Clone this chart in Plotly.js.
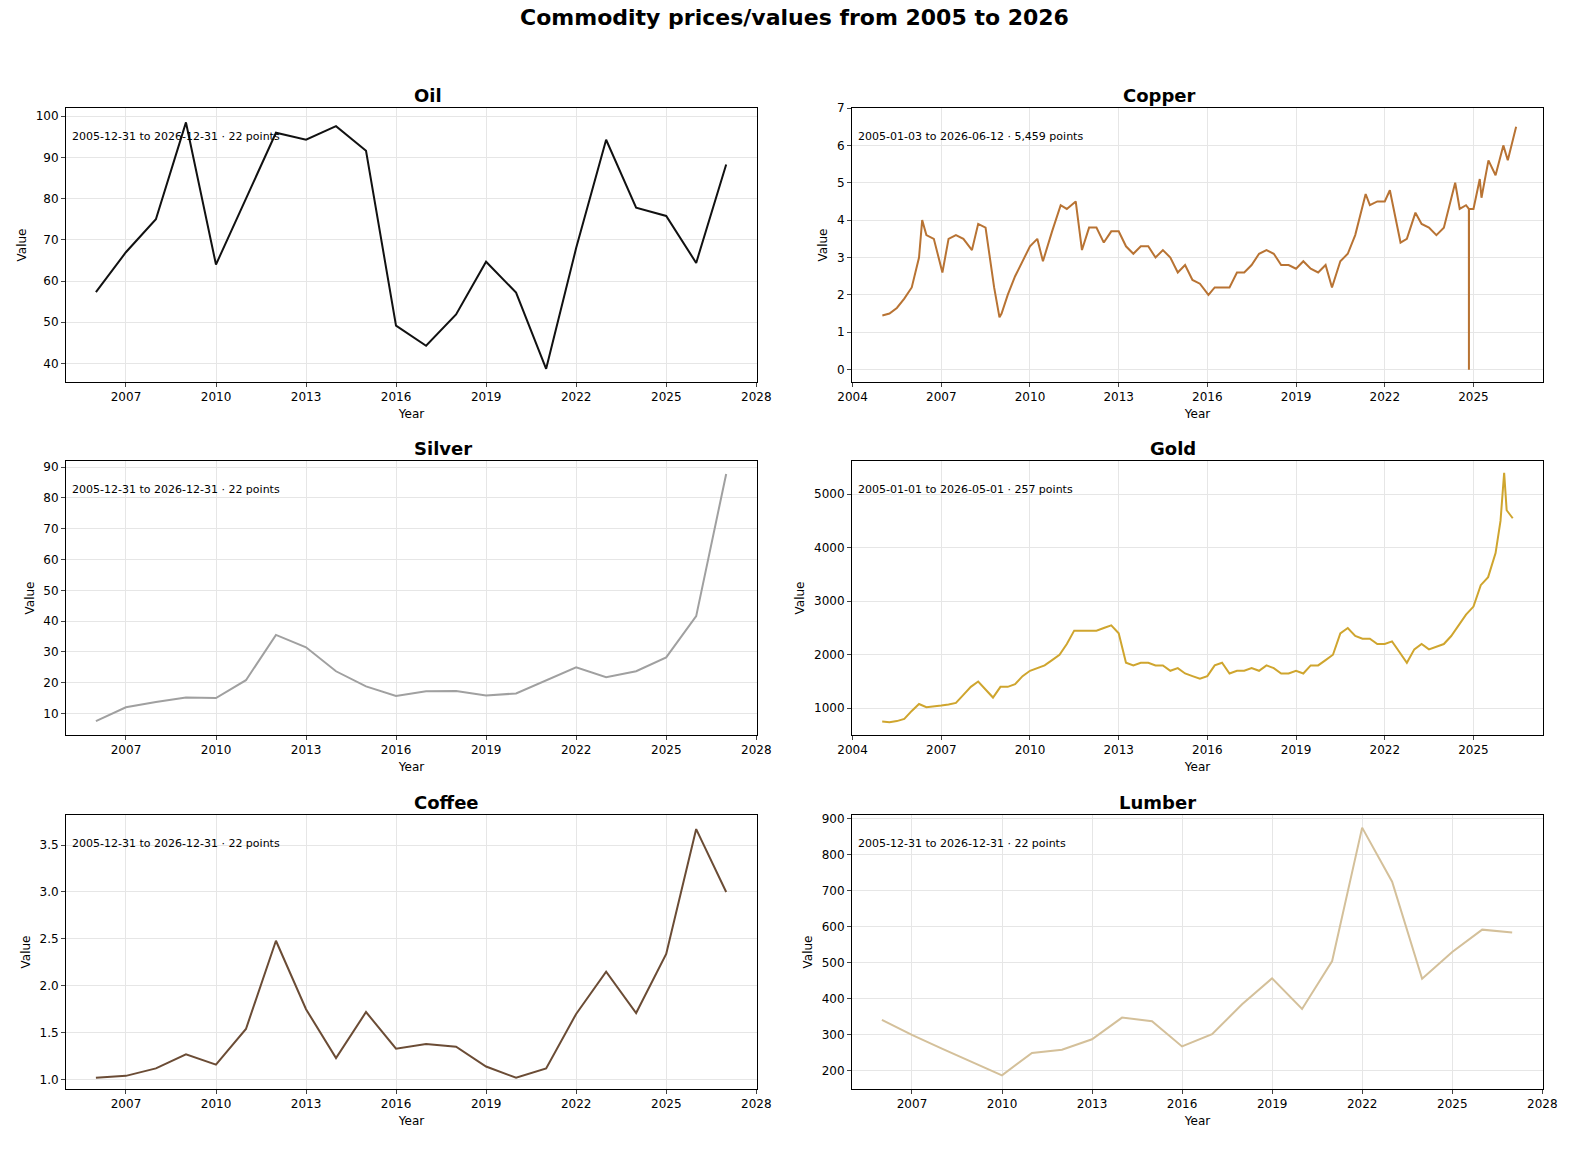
<!DOCTYPE html>
<html><head><meta charset="utf-8">
<script src="https://cdn.plot.ly/plotly-3.0.1.min.js"></script>
<style>body{margin:0;background:#fff}#chart{width:1589px;height:1156px}</style>
</head><body><div id="chart"></div>
<script>
// annual series: year-end dates
const yearEnds = [];
for (let y = 2005; y <= 2026; y++) yearEnds.push(y + "-12-31");

const oil = [57.3, 67, 75, 98.5, 64, 80, 96, 94.3, 97.6, 91.6, 49.2, 44.3, 51.9, 64.7, 57.2, 38.7, 68, 94.3, 77.8, 75.8, 64.4, 88.3];
const silver = [7.5, 12, 13.7, 15.2, 15, 20.8, 35.5, 31.5, 23.7, 18.8, 15.7, 17.2, 17.3, 15.8, 16.5, 20.8, 25, 21.8, 23.7, 28.2, 41.6, 87.8];
const coffee = [1.02, 1.04, 1.12, 1.27, 1.16, 1.54, 2.48, 1.75, 1.23, 1.72, 1.33, 1.38, 1.35, 1.14, 1.02, 1.12, 1.70, 2.15, 1.71, 2.34, 3.67, 3.00];
const lumber = [342, 300, 262, 225, 188, 250, 259, 288, 348, 338, 268, 302, 385, 457, 372, 505, 875, 725, 456, 530, 592, 584];

const copperDates = ["2005-01-03","2005-04-01","2005-07-01","2005-10-01","2006-01-01","2006-04-01","2006-05-10","2006-07-01","2006-10-01",
 "2007-01-15","2007-04-01","2007-07-01","2007-10-01","2008-01-15","2008-04-01","2008-07-01","2008-10-15","2008-12-20",
 "2009-01-15","2009-04-01","2009-07-01","2009-10-01","2010-01-01","2010-04-01","2010-06-10","2010-10-01",
 "2011-01-15","2011-04-01","2011-07-20","2011-10-05","2012-01-01","2012-04-01","2012-07-01","2012-10-01",
 "2013-01-01","2013-04-01","2013-07-01","2013-10-01","2014-01-01","2014-04-01","2014-07-01","2014-10-01",
 "2015-01-01","2015-04-01","2015-07-01","2015-10-01","2016-01-15","2016-04-01","2016-07-01","2016-10-01",
 "2017-01-01","2017-04-01","2017-07-01","2017-10-01","2018-01-01","2018-04-01","2018-07-01","2018-10-01",
 "2019-01-01","2019-04-01","2019-07-01","2019-10-01","2020-01-01","2020-03-20","2020-07-01","2020-10-01",
 "2021-01-01","2021-05-10","2021-07-01","2021-10-01","2022-01-01","2022-03-05","2022-07-15","2022-10-01",
 "2023-01-15","2023-04-01","2023-07-01","2023-10-01","2024-01-01","2024-05-20","2024-07-15","2024-10-01",
 "2024-11-05","2024-11-06","2024-11-07","2025-01-01","2025-03-20","2025-04-10","2025-07-05","2025-10-01",
 "2026-01-05","2026-03-01","2026-06-12"];
const copper = [1.45,1.5,1.65,1.9,2.2,3.0,4.0,3.6,3.5,2.6,3.5,3.6,3.5,3.2,3.9,3.8,2.2,1.4,
 1.5,2.0,2.5,2.9,3.3,3.5,2.9,3.7,4.4,4.3,4.5,3.2,3.8,3.8,3.4,3.7,
 3.7,3.3,3.1,3.3,3.3,3.0,3.2,3.0,2.6,2.8,2.4,2.3,2.0,2.2,2.2,2.2,
 2.6,2.6,2.8,3.1,3.2,3.1,2.8,2.8,2.7,2.9,2.7,2.6,2.8,2.2,2.9,3.1,
 3.6,4.7,4.4,4.5,4.5,4.8,3.4,3.5,4.2,3.9,3.8,3.6,3.8,5.0,4.3,4.4,
 4.3,0,4.3,4.3,5.1,4.6,5.6,5.2,6.0,5.6,6.5];

const goldDates = [];
for (let y = 2005; y <= 2025; y++) ["01","04","07","10"].forEach(m => goldDates.push(y + "-" + m + "-01"));
goldDates.push("2025-12-01","2026-01-15","2026-02-15","2026-05-01");
const gold = [750,740,760,800, 950,1080,1020,1030, 1050,1070,1100,1250, 1400,1500,1350,1200,
 1400,1400,1450,1600, 1700,1750,1800,1900, 2000,2200,2450,2450, 2450,2450,2500,2550,
 2400,1850,1800,1850, 1850,1800,1800,1700, 1750,1650,1600,1550, 1600,1800,1850,1650,
 1700,1700,1750,1700, 1800,1750,1650,1650, 1700,1650,1800,1800, 1900,2000,2400,2500,
 2350,2300,2300,2200, 2200,2250,2050,1850, 2100,2200,2100,2150, 2200,2350,2550,2750,
 2900,3300,3450,3900, 4500,5400,4700,4550];

const annualRange = ["2005-01-01","2028-01-10"];
const dailyRange = ["2003-12-25","2027-05-10"];
const panels = [
 {name:"Oil", x:yearEnds, y:oil, color:"#111111", note:"2005-12-31 to 2026-12-31 · 22 points", yr:[35.5,102], dt:10, fmt:"", xr:annualRange, col:0, row:0},
 {name:"Copper", x:copperDates, y:copper, color:"#b87333", note:"2005-01-03 to 2026-06-12 · 5,459 points", yr:[-0.33,7.0], dt:1, fmt:"", xr:dailyRange, col:1, row:0},
 {name:"Silver", x:yearEnds, y:silver, color:"#a0a0a0", note:"2005-12-31 to 2026-12-31 · 22 points", yr:[3,92], dt:10, fmt:"", xr:annualRange, col:0, row:1},
 {name:"Gold", x:goldDates, y:gold, color:"#cfa52e", note:"2005-01-01 to 2026-05-01 · 257 points", yr:[500,5620], dt:1000, fmt:"", xr:dailyRange, col:1, row:1},
 {name:"Coffee", x:yearEnds, y:coffee, color:"#6b4c35", note:"2005-12-31 to 2026-12-31 · 22 points", yr:[0.9,3.82], dt:0.5, fmt:".1f", xr:annualRange, col:0, row:2},
 {name:"Lumber", x:yearEnds, y:lumber, color:"#d4c09a", note:"2005-12-31 to 2026-12-31 · 22 points", yr:[150,910], dt:100, fmt:"", xr:annualRange, col:1, row:2}
];

const W = 1589, H = 1156;
const xDom = [[66/W, 757/W], [852/W, 1543/W]];
const yPx = [[108, 382], [461, 735], [815, 1089]];

const traces = [], annotations = [];
const layout = {
  width: W, height: H, margin:{l:0,r:0,t:0,b:0}, showlegend:false,
  paper_bgcolor:"#fff", plot_bgcolor:"#fff",
  font:{family:"DejaVu Sans", size:12, color:"#000"},
  title:{text:"<b>Commodity prices/values from 2005 to 2026</b>", x:0.5, y:0.992, xanchor:"center", yanchor:"top", font:{size:22}}
};
panels.forEach((p, i) => {
  const n = i + 1;
  const ax = n === 1 ? "" : n;
  traces.push({x:p.x, y:p.y, type:"scatter", mode:"lines", line:{color:p.color, width:2}, xaxis:"x"+ax, yaxis:"y"+ax});
  const yd = [1 - yPx[p.row][1]/H, 1 - yPx[p.row][0]/H];
  layout["xaxis"+ax] = {domain:xDom[p.col], anchor:"y"+ax, type:"date", range:p.xr,
    tick0:"2004-01-01", dtick:"M36", tickformat:"%Y", ticks:"outside", ticklen:4,
    showline:true, mirror:true, linecolor:"#000", gridcolor:"#e6e6e6", zeroline:false,
    title:{text:"Year", standoff:6, font:{size:12}}};
  layout["yaxis"+ax] = {domain:yd, anchor:"x"+ax, range:p.yr, dtick:p.dt, tickformat:p.fmt, ticks:"outside", ticklen:4,
    showline:true, mirror:true, linecolor:"#000", gridcolor:"#e6e6e6", zeroline:false,
    title:{text:"Value", standoff:6, font:{size:12}}};
  annotations.push({text:"<b>"+p.name+"</b>", xref:"paper", yref:"paper", x:(xDom[p.col][0]+xDom[p.col][1])/2, y:yd[1],
    yanchor:"bottom", showarrow:false, yshift:0, font:{size:18}});
  annotations.push({text:p.note, xref:"x"+ax+" domain", yref:"y"+ax+" domain", x:0.006, y:0.895, xanchor:"left", yanchor:"middle",
    showarrow:false, font:{size:11}});
});
layout.annotations = annotations;
Plotly.newPlot("chart", traces, layout, {staticPlot:true});
</script></body></html>
